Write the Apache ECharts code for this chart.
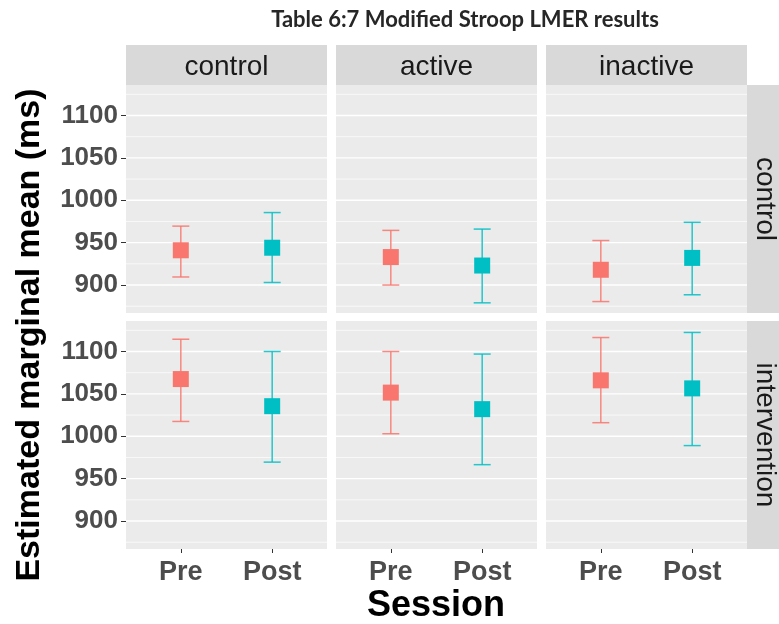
<!DOCTYPE html>
<html>
<head>
<meta charset="utf-8">
<title>Modified Stroop LMER results</title>
<script src="https://cdn.jsdelivr.net/npm/echarts@6/dist/echarts.min.js"></script>
<style>
  html, body { margin: 0; padding: 0; background: #ffffff; }
  #chart { width: 779px; height: 624px; }
</style>
</head>
<body>
<div id="chart"></div>
<script>
// Facet levels
const sessions = ['Pre', 'Post'];
const groups = ['control', 'active', 'inactive'];
const conditions = ['control', 'intervention'];

// Estimated marginal means (ms) and 95% CI, per group: [Pre, Post]
const controlMean  = [[941, 944], [933, 923], [918, 932]];
const controlLower = [[909.5, 903], [900, 879], [880.5, 888.5]];
const controlUpper = [[969.5, 985.5], [964.5, 966], [952.5, 974]];

const interventionMean  = [[1067.5, 1035.5], [1051.5, 1032], [1066, 1056.5]];
const interventionLower = [[1017.5, 969.5], [1003, 966.5], [1016, 989]];
const interventionUpper = [[1114.5, 1100], [1100, 1097], [1116.5, 1122.5]];

// Axis breaks
const yTicks = [900, 950, 1000, 1050, 1100];
const yMinorLines = [875, 925, 975, 1025, 1075, 1125];

const rowMeans = [controlMean, interventionMean];
const rowLowers = [controlLower, interventionLower];
const rowUppers = [controlUpper, interventionUpper];

const sessionColors = ['#F8766D', '#00BFC4'];

// Panel layout
const colLeft = [126, 336, 546];
const panelWidth = 201;
const rowTop = [85, 321];
const panelHeight = 228;
const yMin = 867, yMax = 1136;

const labelFont = 'Liberation Sans, Arial, sans-serif';

const grids = [], xAxes = [], yAxes = [], series = [], graphics = [];

function renderGridLine(params, api) {
  const cs = params.coordSys;
  const y = api.coord([1, api.value(1)])[1];
  const major = api.value(2) === 1;
  return {
    type: 'line',
    shape: { x1: cs.x, y1: y, x2: cs.x + cs.width, y2: y },
    style: { stroke: '#FFFFFF', lineWidth: major ? 1.4 : 0.7 },
    silent: true
  };
}

function renderErrorBar(params, api) {
  const x = api.value(0);
  const lo = api.coord([x, api.value(1)]);
  const hi = api.coord([x, api.value(2)]);
  const half = 8.5;
  const style = { stroke: api.visual('color'), lineWidth: 1.5, opacity: 0.85 };
  return {
    type: 'group',
    children: [
      { type: 'line', shape: { x1: lo[0], y1: hi[1], x2: lo[0], y2: lo[1] }, style: style },
      { type: 'line', shape: { x1: lo[0] - half, y1: hi[1], x2: lo[0] + half, y2: hi[1] }, style: style },
      { type: 'line', shape: { x1: lo[0] - half, y1: lo[1], x2: lo[0] + half, y2: lo[1] }, style: style }
    ]
  };
}

const gridLineData = yTicks.map(v => [1, v, 1]).concat(yMinorLines.map(v => [1, v, 0]));

conditions.forEach((cond, r) => {
  groups.forEach((grp, c) => {
    const idx = r * groups.length + c;
    grids.push({
      left: colLeft[c], top: rowTop[r], width: panelWidth, height: panelHeight,
      show: true, backgroundColor: '#EBEBEB', borderWidth: 0
    });
    const bottomRow = r === conditions.length - 1;
    const firstCol = c === 0;
    xAxes.push({
      type: 'value', gridIndex: idx, min: 0.4, max: 2.6,
      axisLine: { show: false },
      splitLine: { show: false },
      axisTick: {
        show: bottomRow, customValues: [1, 2], length: 4,
        lineStyle: { color: '#333333', width: 1 }
      },
      axisLabel: {
        show: bottomRow, customValues: [1, 2], margin: 10,
        formatter: v => sessions[Math.round(v) - 1] || '',
        fontFamily: labelFont, fontWeight: 'bold', fontSize: 27, color: '#4D4D4D'
      }
    });
    yAxes.push({
      type: 'value', gridIndex: idx, min: yMin, max: yMax,
      axisLine: { show: false },
      splitLine: { show: false },
      axisTick: {
        show: firstCol, customValues: yTicks, length: 5,
        lineStyle: { color: '#333333', width: 1 }
      },
      axisLabel: {
        show: firstCol, customValues: yTicks, margin: 8,
        formatter: v => String(v),
        fontFamily: labelFont, fontWeight: 'bold', fontSize: 26, color: '#4D4D4D'
      }
    });

    // background grid lines
    series.push({
      type: 'custom', xAxisIndex: idx, yAxisIndex: idx, z: 1, silent: true,
      renderItem: renderGridLine, data: gridLineData
    });

    sessions.forEach((s, k) => {
      series.push({
        type: 'custom', name: s, xAxisIndex: idx, yAxisIndex: idx, z: 3,
        itemStyle: { color: sessionColors[k] },
        renderItem: renderErrorBar,
        data: [[k + 1, rowLowers[r][c][k], rowUppers[r][c][k]]]
      });
      series.push({
        type: 'scatter', name: s, xAxisIndex: idx, yAxisIndex: idx, z: 4,
        symbol: 'rect', symbolSize: 16,
        itemStyle: { color: sessionColors[k], opacity: 1 },
        data: [[k + 1, rowMeans[r][c][k]]]
      });
    });
  });
});

// Column strips (top)
groups.forEach((grp, c) => {
  graphics.push({
    type: 'rect', shape: { x: colLeft[c], y: 45, width: panelWidth, height: 40 },
    style: { fill: '#D9D9D9' }, silent: true
  });
  graphics.push({
    type: 'text', x: colLeft[c] + panelWidth / 2, y: 67,
    style: { text: grp, fill: '#1A1A1A', font: '28px ' + labelFont, textAlign: 'center', textVerticalAlign: 'middle' }
  });
});

// Row strips (right)
conditions.forEach((cond, r) => {
  graphics.push({
    type: 'rect', shape: { x: 747, y: rowTop[r], width: 40, height: panelHeight },
    style: { fill: '#D9D9D9' }, silent: true
  });
  graphics.push({
    type: 'text', x: 765, y: rowTop[r] + panelHeight / 2, rotation: -Math.PI / 2,
    style: { text: cond, fill: '#1A1A1A', font: '28px ' + labelFont, textAlign: 'center', textVerticalAlign: 'middle' }
  });
});

// Titles
graphics.push({
  type: 'text', x: 465, y: 20,
  style: { text: 'Table 6:7 Modified Stroop LMER results', fill: '#262626', font: 'bold 22px Lato, sans-serif', textAlign: 'center', textVerticalAlign: 'middle' }
});
graphics.push({
  type: 'text', x: 30, y: 335, rotation: Math.PI / 2,
  style: { text: 'Estimated marginal mean (ms)', fill: '#000000', font: 'bold 34px ' + labelFont, textAlign: 'center', textVerticalAlign: 'middle' }
});
graphics.push({
  type: 'text', x: 436, y: 606,
  style: { text: 'Session', fill: '#000000', font: 'bold 36px ' + labelFont, textAlign: 'center', textVerticalAlign: 'middle' }
});

const chart = echarts.init(document.getElementById('chart'), null, { renderer: 'canvas' });
chart.setOption({
  animation: false,
  backgroundColor: '#FFFFFF',
  grid: grids,
  xAxis: xAxes,
  yAxis: yAxes,
  series: series,
  graphic: graphics
});
</script>
</body>
</html>
